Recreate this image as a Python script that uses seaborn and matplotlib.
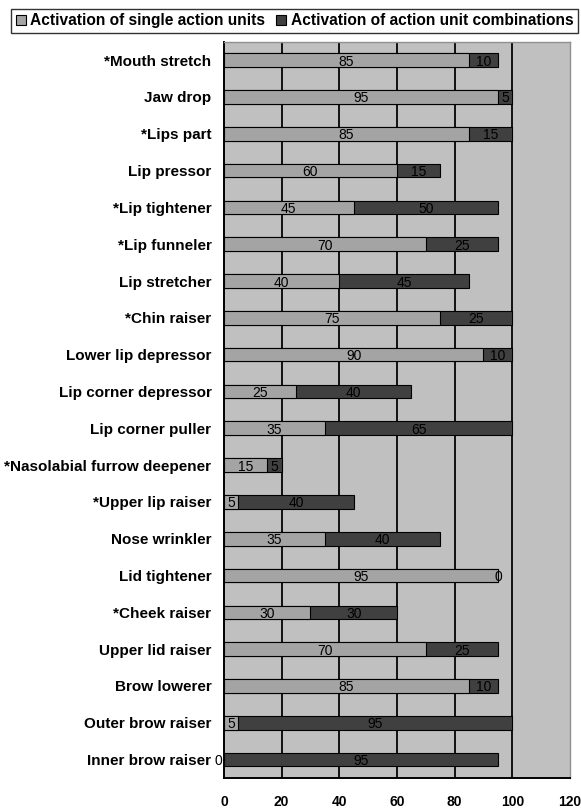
import numpy as np
import pandas as pd
import matplotlib.pyplot as plt
import seaborn as sns
from matplotlib.patches import Patch

# ========== 数据 ==========
categories = ["*Mouth stretch", "Jaw drop", "*Lips part", "Lip pressor", "*Lip tightener",
              "*Lip funneler", "Lip stretcher", "*Chin raiser", "Lower lip depressor",
              "Lip corner depressor", "Lip corner puller", "*Nasolabial furrow deepener",
              "*Upper lip raiser", "Nose wrinkler", "Lid tightener", "*Cheek raiser",
              "Upper lid raiser", "Brow lowerer", "Outer brow raiser", "Inner brow raiser"]
single_au = [85, 95, 85, 60, 45, 70, 40, 75, 90, 25, 35, 15, 5, 35, 95, 30, 70, 85, 5, 0]
combo_au = [10, 5, 15, 15, 50, 25, 45, 25, 10, 40, 65, 5, 40, 40, 0, 30, 25, 10, 95, 95]
legend_labels = ["Activation of single action units", "Activation of action unit combinations"]
x_ticks = [0, 20, 40, 60, 80, 100, 120]

df = pd.DataFrame({"category": categories, "single": single_au, "combo": combo_au})
df["total"] = df["single"] + df["combo"]

C_BG = "#c0c0c0"
C_SINGLE = "#a4a4a4"
C_COMBO = "#404040"

sns.set_style("white")
plt.rcParams["font.family"] = ["Liberation Sans", "DejaVu Sans"]
plt.rcParams["text.color"] = "black"
plt.rcParams["xtick.color"] = "black"
plt.rcParams["ytick.color"] = "black"

fig = plt.figure(figsize=(5.81, 8.10), dpi=100)
ax = fig.add_axes([0.3855, 0.0395, 0.5955, 0.909])
ax.set_facecolor(C_BG)

# 叠加画法: 先画总长 (深色), 再画单项 (浅色)
sns.barplot(data=df, x="total", y="category", orient="y", color=C_COMBO, saturation=1,
            width=0.37, edgecolor="black", linewidth=0.8, ax=ax, zorder=3)
sns.barplot(data=df, x="single", y="category", orient="y", color=C_SINGLE, saturation=1,
            width=0.37, edgecolor="black", linewidth=0.8, ax=ax, zorder=4)

# 数值标注 (0 的单项标签放在轴左侧)
for i, row in df.iterrows():
    if row["single"] == 0:
        ax.text(-0.6, i, "0", ha="right", va="center_baseline",
                fontsize=10, color="black", zorder=5, clip_on=False)
    else:
        ax.text(row["single"] / 2, i, str(row["single"]), ha="center", va="center_baseline",
                fontsize=10, color="black", zorder=5, clip_on=False)
    ax.text(row["single"] + row["combo"] / 2, i, str(row["combo"]), ha="center",
            va="center_baseline", fontsize=10, color="black", zorder=5, clip_on=False)

ax.set_xlim(0, 120)
ax.set_ylim(len(categories) - 0.5, -0.5)
ax.set_xticks(x_ticks)
ax.set_xticklabels([str(t) for t in x_ticks], fontsize=10, fontweight="bold")
ax.set_yticklabels(categories, fontsize=11, fontweight="bold")
ax.set_xlabel("")
ax.set_ylabel("")

# 网格线
for x in x_ticks[1:-1]:
    ax.axvline(x, color="#111111", linewidth=1.4, zorder=1)

# 轴样式
ax.tick_params(axis="y", length=0, pad=9)
ax.set_yticks(np.arange(-0.5, len(categories), 1.0), minor=True)
ax.tick_params(axis="y", which="minor", length=4, width=1.2, direction="out", color="black")
ax.tick_params(axis="x", length=4, width=1.2, direction="inout", pad=10, color="black")
ax.spines["left"].set_color("black")
ax.spines["left"].set_linewidth(1.4)
ax.spines["bottom"].set_color("black")
ax.spines["bottom"].set_linewidth(1.4)
ax.spines["top"].set_color("#909090")
ax.spines["right"].set_color("#909090")
ax.spines["top"].set_linewidth(1.0)
ax.spines["right"].set_linewidth(1.0)

# 图例
handles = [Patch(facecolor=C_SINGLE, edgecolor="black", linewidth=0.8),
           Patch(facecolor=C_COMBO, edgecolor="black", linewidth=0.8)]
leg = fig.legend(handles, legend_labels, loc="upper center", bbox_to_anchor=(0.507, 0.999),
                 ncol=2, frameon=True, fancybox=False, shadow=False,
                 handlelength=0.65, handleheight=0.65, handletextpad=0.3, columnspacing=0.7,
                 borderpad=0.3, edgecolor="black",
                 prop={"weight": "bold", "size": 11.2})
leg.get_frame().set_linewidth(1.0)

fig.savefig("out.png", dpi=100)
